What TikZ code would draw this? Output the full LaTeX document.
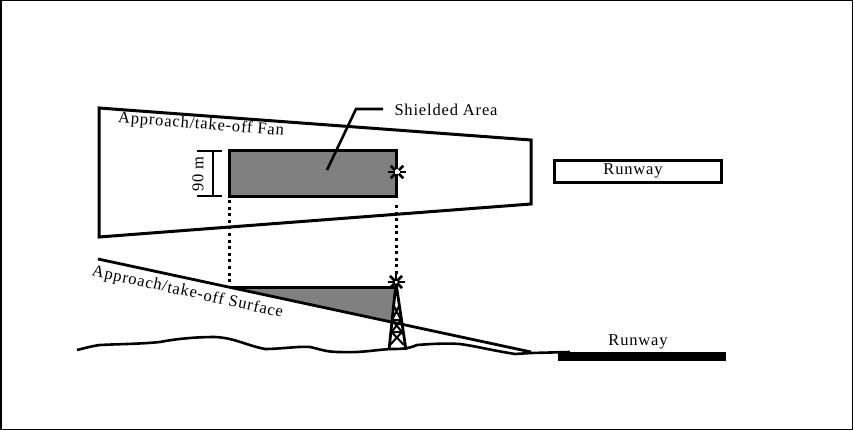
\documentclass[tikz,border=0pt]{standalone}
\usepackage{fontspec}
\setmainfont{Liberation Serif}[LetterSpace=5]
\definecolor{greyfill}{HTML}{808080}
\tikzset{
 heavy/.style={draw=black,line width=3pt,line join=miter},
 txt/.style={inner sep=0pt,font=\fontsize{16.5}{16.5}\selectfont},
 dots/.style={draw=black,line width=3pt,dash pattern=on 3pt off 3.6pt},
 medium/.style={draw=black,line width=2.6pt}
}
\begin{document}
\begin{tikzpicture}[x=1pt,y=-1pt]
\useasboundingbox (0,0) rectangle (853,430);
\draw[black,line width=1.5pt] (0.75,0.75) rectangle (852.25,429.25);
% fan
\draw[heavy] (99,108) -- (531,140) -- (531,204) -- (99,237) -- cycle;
\node[txt,rotate=-4.5] (fanlabel) at (201,125) {Approach/take-off Fan};
% shielded rectangle
\node[heavy,fill=greyfill,minimum width=167pt,minimum height=46pt,inner sep=0pt,anchor=center] (shield) at (313,173.5) {};
\node[txt] (shieldlabel) at (446,110) {Shielded Area};
\coordinate (lead0) at (327,170);
\coordinate (lead1) at (356,109);
\coordinate (lead2) at (383,109);
\draw[medium] (lead0) -- (lead1) -- (lead2);
% dimension
\coordinate (d1) at (197,151); \coordinate (d2) at (222,151);
\coordinate (d3) at (197,196); \coordinate (d4) at (222,196);
\coordinate (d5) at (213,151); \coordinate (d6) at (213,196);
\draw[medium] (d1) -- (d2) (d3) -- (d4) (d5) -- (d6);
\node[txt,rotate=90] (dimlabel) at (198,174) {90 m};
% plan obstacle star
\coordinate (star1) at (397,172);
\fill[white] (star1) circle (3pt);
\foreach \a in {0,45,...,315}
  \draw[black,line width=2.8pt] (star1) ++(\a:2.5pt) -- ++(\a:6.5pt);
% runway plan
\node[heavy,fill=white,minimum width=167pt,minimum height=22pt,inner sep=0pt,anchor=center] (runwayA) at (638,171.5) {};
\node[txt] (runwayAlabel) at (633,171) {Runway};
% dotted
\coordinate (p1) at (229,200); \coordinate (p2) at (229,283);
\coordinate (p3) at (396,205); \coordinate (p4) at (396,275);
\draw[dots] (p1) -- (p2);
\draw[dots] (p3) -- (p4);
% surface
\coordinate (s0) at (98,259);
\coordinate (s1) at (230,287);
\coordinate (s2) at (395,287);
\coordinate (s3) at (392,321);
\coordinate (s4) at (531,352);
\fill[greyfill] (s1) -- (s2) -- (s3) -- cycle;
\draw[black,line width=3pt] (s1) -- (s2);
\draw[black,line width=2.8pt] (s0) -- (s4);
\node[txt,rotate=-12.5] (surflabel) at (187.5,292.5) {Approach/take-off Surface};
% ground
\draw[black,line width=2.6pt,line join=round] (77,350) .. controls (85,348) and (92,346) .. (100,345)
 .. controls (120,344) and (140,344) .. (160,342)
 .. controls (175,339) and (195,337) .. (215,337)
 .. controls (235,338) and (245,345) .. (265,349)
 .. controls (280,349) and (300,346) .. (310,347)
 .. controls (320,349) and (325,352) .. (340,352)
 .. controls (360,353) and (375,350) .. (390,349)
 .. controls (400,349) and (408,349) .. (417,345)
 .. controls (430,344) and (445,343) .. (460,344)
 .. controls (475,346) and (490,350) .. (515,354)
 -- (531,353) -- (570,352);
% tower
\coordinate (ta) at (396,283);
\coordinate (tl) at (389,350);
\coordinate (tr) at (406,350);
\draw[black,line width=2.8pt] (tl) -- (ta) -- (tr);
\draw[black,line width=2pt] (394,306) -- (401,320) -- (391.5,332) -- (404,345)
 (399,306) -- (392,320) -- (402,332) -- (390,345) (392,320) -- (401,320) (391.5,332) -- (402,332);
\coordinate (star2) at (396,282);
\fill[white] (star2) circle (2.5pt);
\foreach \a in {0,45,...,315}
  \draw[black,line width=2.6pt] (star2) ++(\a:1.5pt) -- ++(\a:7pt);
% runway elevation
\fill[black] (558,352) rectangle (726,361);
\node[txt] (runwayBlabel) at (638,342) {Runway};
\end{tikzpicture}
\end{document}
